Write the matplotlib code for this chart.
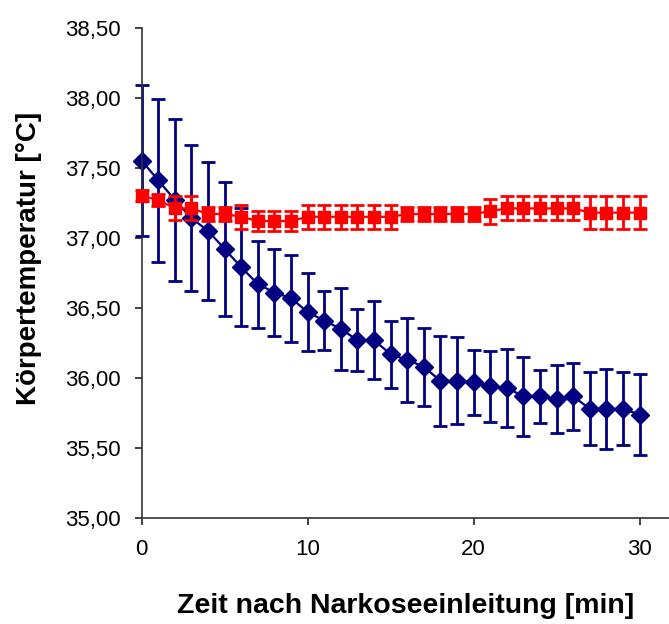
import matplotlib.pyplot as plt
import numpy as np

# Zeit in Minuten
zeit = list(range(31))

# Gruppe 1 (blau): Mittelwert und SD
blau_mw = [37.55, 37.41, 37.27, 37.14, 37.05, 36.92, 36.79, 36.67, 36.61, 36.57,
           36.47, 36.41, 36.35, 36.27, 36.27, 36.17, 36.13, 36.08, 35.98, 35.98,
           35.97, 35.94, 35.93, 35.87, 35.87, 35.85, 35.87, 35.78, 35.78, 35.78,
           35.74]
blau_sd = [0.54, 0.58, 0.58, 0.52, 0.49, 0.48, 0.42, 0.31, 0.31, 0.31,
           0.28, 0.21, 0.29, 0.22, 0.28, 0.24, 0.30, 0.28, 0.32, 0.31,
           0.23, 0.25, 0.28, 0.28, 0.19, 0.24, 0.24, 0.26, 0.285, 0.26,
           0.29]

# Gruppe 2 (rot)
rot_mw = [37.30, 37.27, 37.21, 37.21, 37.17, 37.17, 37.15, 37.12, 37.12, 37.12,
          37.15, 37.15, 37.15, 37.15, 37.15, 37.15, 37.17, 37.17, 37.17, 37.17,
          37.17, 37.19, 37.21, 37.21, 37.21, 37.21, 37.21, 37.18, 37.18, 37.18,
          37.18]
rot_sd = [0.04, 0.045, 0.085, 0.085, 0.05, 0.05, 0.085, 0.07, 0.07, 0.07,
          0.087, 0.087, 0.087, 0.087, 0.087, 0.087, 0.05, 0.05, 0.05, 0.05,
          0.05, 0.09, 0.085, 0.085, 0.085, 0.085, 0.085, 0.115, 0.115, 0.115,
          0.115]

plt.rcParams['font.family'] = ['Liberation Sans', 'DejaVu Sans']

fig = plt.figure(figsize=(6.69, 6.24), dpi=100)
ax = fig.add_axes([0.2118, 0.1694, 0.7882, 0.7865])

ax.errorbar(zeit, blau_mw, yerr=blau_sd, color='#000080', marker='D',
            markersize=9.5, linewidth=1.6, elinewidth=2, capsize=5,
            capthick=2, zorder=2)
ax.errorbar(zeit, rot_mw, yerr=rot_sd, color='#FF0000', marker='s',
            markersize=9, linewidth=1.6, elinewidth=2, capsize=5,
            capthick=2, zorder=3)

ax.set_xlim(0, 31.77)
ax.set_ylim(35, 38.5)
ax.set_xticks([0, 10, 20, 30])
yt = np.arange(35, 38.51, 0.5)
ax.set_yticks(yt)
ax.set_yticklabels([f"{v:.2f}".replace('.', ',') for v in yt])

for s in ['top', 'right']:
    ax.spines[s].set_visible(False)
for s in ['left', 'bottom']:
    ax.spines[s].set_color('#333333')
    ax.spines[s].set_linewidth(1.2)
ax.tick_params(direction='out', length=5, width=1.2, labelsize=16,
               color='#222222', pad=10)
for c in ax.get_children():
    if hasattr(c, 'set_clip_on'):
        c.set_clip_on(False)

ax.set_xlabel('Zeit nach Narkoseeinleitung [min]', fontsize=20.5,
              fontweight='bold', labelpad=24)
ax.set_ylabel('Körpertemperatur [°C]', fontsize=20, fontweight='bold')
ax.yaxis.set_label_coords(-0.19, 0.53)

fig.savefig('out.png', dpi=100)
